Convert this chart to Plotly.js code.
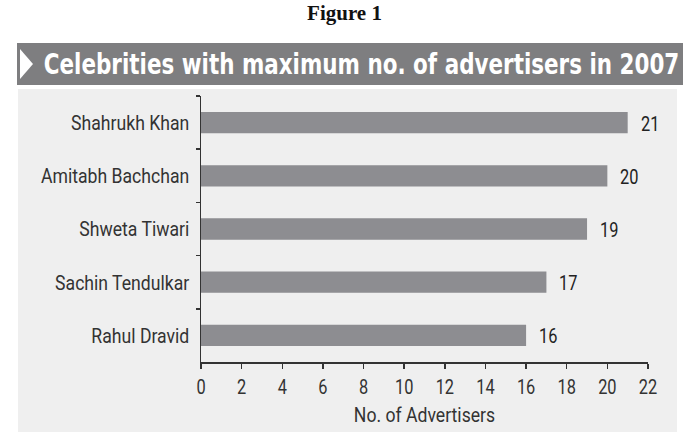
<!DOCTYPE html>
<html>
<head>
<meta charset="utf-8">
<script src="https://cdn.plot.ly/plotly-3.0.1.min.js"></script>
<style>
html,body{margin:0;padding:0;background:#fff;}
#chart{width:689px;height:432px;}
</style>
</head>
<body>
<div id="chart"></div>
<script>
const figureTitle = "Figure 1";
const bannerTitle = "Celebrities with maximum no. of advertisers in 2007";
const celebrities = ["Shahrukh Khan", "Amitabh Bachchan", "Shweta Tiwari", "Sachin Tendulkar", "Rahul Dravid"];
const advertisers = [21, 20, 19, 17, 16];
const xTickValues = [0, 2, 4, 6, 8, 10, 12, 14, 16, 18, 20, 22];
const xAxisTitle = "No. of Advertisers";

const W = 689, H = 432;
const sans = "Roboto, 'Liberation Sans', sans-serif";

// plot area in pixels
const pl = 201, pr = 648, pt = 96, pb = 362;
const toPaperX = v => (v - pl) / (pr - pl);
const toPaperY = v => (pb - v) / (pb - pt);

const trace = {
  type: "bar",
  orientation: "h",
  y: celebrities,
  x: advertisers,
  width: 0.4,
  marker: {color: "#8d8d91", line: {width: 0}},
  hoverinfo: "skip"
};

const valueLabels = celebrities.map((c, i) => ({
  x: advertisers[i], y: c, xref: "x", yref: "y",
  text: String(advertisers[i]), showarrow: false,
  xanchor: "left", xshift: 11, yshift: -1,
  font: {family: sans, size: 21, color: "#222"}
}));

const layout = {
  width: W, height: H,
  margin: {l: pl, r: W - pr, t: pt, b: H - pb},
  paper_bgcolor: "#ffffff",
  plot_bgcolor: "rgba(0,0,0,0)",
  showlegend: false,
  title: {
    text: "<b>" + figureTitle + "</b>",
    x: 0.5, xanchor: "center", y: 1 - 13 / H, yanchor: "middle",
    font: {family: "'Liberation Serif', 'DejaVu Serif', serif", size: 21, color: "#111"}
  },
  xaxis: {
    range: [0, 22],
    tickvals: xTickValues,
    ticktext: xTickValues.map(String),
    showgrid: false, zeroline: false,
    showline: true, linecolor: "#333", linewidth: 1.5,
    ticks: "outside", ticklen: 5, tickcolor: "#333", tickwidth: 1.5,
    tickfont: {family: sans, size: 21, color: "#333"},
    title: {text: xAxisTitle, standoff: 9, font: {family: sans, size: 21, color: "#333"}},
    fixedrange: true
  },
  yaxis: {
    type: "category",
    autorange: "reversed",
    showgrid: false, zeroline: false,
    showline: true, linecolor: "#333", linewidth: 1.5,
    ticks: "outside", ticklen: 4, tickcolor: "#333", tickwidth: 1.5,
    tickson: "boundaries",
    ticklabelstandoff: 6,
    tickfont: {family: sans, size: 21, color: "#333"},
    fixedrange: true
  },
  shapes: [
    {type: "rect", xref: "paper", yref: "paper", layer: "below",
     x0: toPaperX(18), x1: toPaperX(677), y0: toPaperY(432), y1: toPaperY(89),
     fillcolor: "#efefef", line: {width: 0}},
    {type: "rect", xref: "paper", yref: "paper", layer: "below",
     x0: toPaperX(17), x1: toPaperX(683), y0: toPaperY(85), y1: toPaperY(43),
     fillcolor: "#7e7e80", line: {width: 0}},
    {type: "path", xref: "paper", yref: "paper", layer: "above",
     path: "M " + toPaperX(20) + " " + toPaperY(49) + " L " + toPaperX(33) + " " + toPaperY(64) +
           " L " + toPaperX(20) + " " + toPaperY(79) + " Z",
     fillcolor: "#ffffff", line: {width: 0}}
  ],
  annotations: valueLabels.concat([
    {xref: "paper", yref: "paper", x: toPaperX(361), y: toPaperY(65), xanchor: "center", yanchor: "middle",
     showarrow: false, text: "<b>" + bannerTitle + "</b>",
     font: {family: "'DejaVu Sans', sans-serif", size: 28, color: "#ffffff"}}
  ])
};

// horizontally condense a text element around an anchor point (keeps existing transform)
function condense(el, s, anchor) {
  const bb = el.getBBox();
  const ox = anchor === "end" ? bb.x + bb.width : anchor === "start" ? bb.x : bb.x + bb.width / 2;
  const oy = bb.y + bb.height / 2;
  const prev = el.getAttribute("transform") || "";
  el.setAttribute("transform", prev + " translate(" + ox + "," + oy + ") scale(" + s + ",1) translate(" + (-ox) + "," + (-oy) + ")");
}

Plotly.newPlot("chart", [trace], layout, {staticPlot: true, displayModeBar: false}).then(() => {
  const root = document.getElementById("chart");
  root.querySelectorAll(".ytick text").forEach(t => condense(t, 0.84, "end"));
  root.querySelectorAll(".xtick text").forEach(t => condense(t, 0.78, "middle"));
  root.querySelectorAll(".xtitle").forEach(t => condense(t, 0.84, "middle"));
  root.querySelectorAll(".annotation-text").forEach(t => {
    if (t.textContent === bannerTitle) {
      const w = t.getBBox().width;
      condense(t, Math.min(1, 636 / w), "middle");
    } else {
      condense(t, 0.78, "start");
    }
  });
});
</script>
</body>
</html>
